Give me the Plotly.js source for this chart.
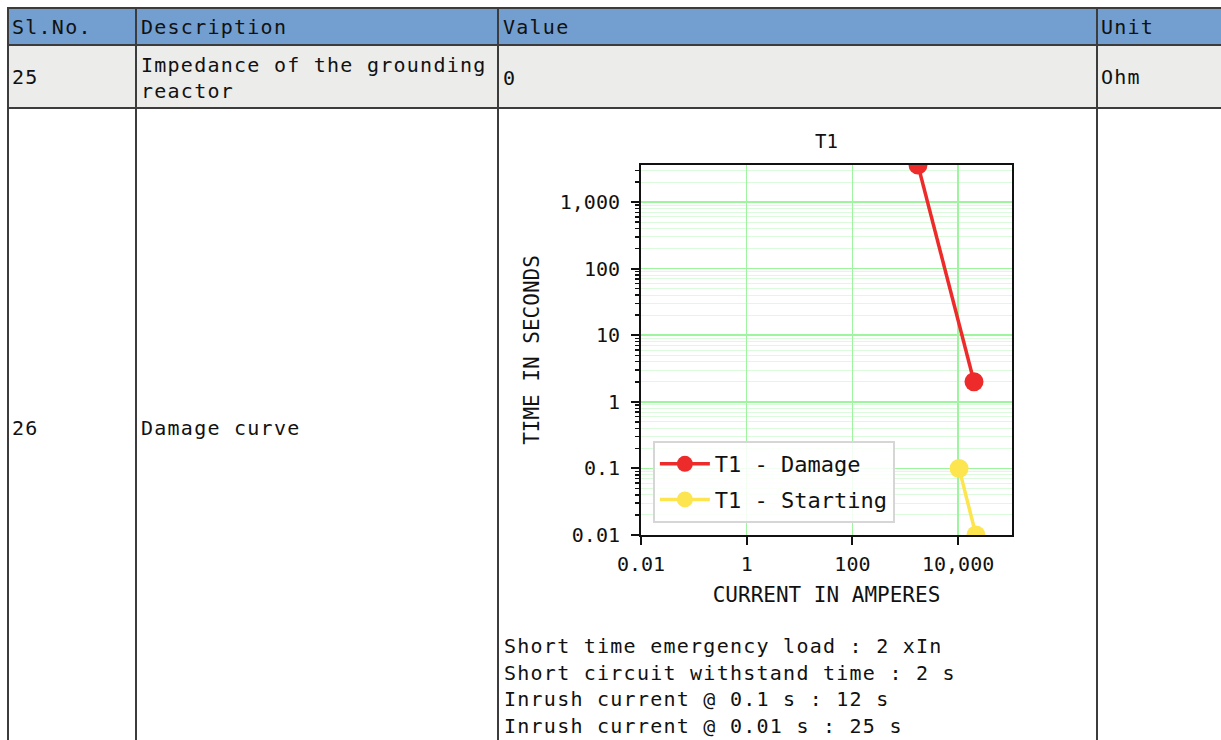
<!DOCTYPE html>
<html>
<head>
<meta charset="utf-8">
<script src="https://cdn.plot.ly/plotly-3.0.1.min.js"></script>
<style>
  html, body { margin: 0; padding: 0; background: #ffffff; width: 1221px; height: 740px; overflow: hidden; }
  body { position: relative; font-family: "DejaVu Sans Mono", monospace; color: #111; }
  .bg { position: absolute; }
  .hl { position: absolute; height: 2px; background: #3c3c3c; }
  .vl { position: absolute; width: 2px; background: #3c3c3c; }
  .t { position: absolute; font-size: 20px; letter-spacing: 1.25px; white-space: pre; line-height: 26px; }
  #chart { position: absolute; left: 500px; top: 110px; width: 530px; height: 515px; }
</style>
</head>
<body>
<div class="bg" style="left:8px;top:8px;width:1213px;height:37px;background:#729fcf;"></div>
<div class="bg" style="left:8px;top:45px;width:1213px;height:63px;background:#ececea;"></div>

<div class="hl" style="left:7px;top:7px;width:1214px;"></div>
<div class="hl" style="left:7px;top:44px;width:1214px;"></div>
<div class="hl" style="left:7px;top:107px;width:1214px;"></div>
<div class="vl" style="left:7px;top:7px;height:733px;"></div>
<div class="vl" style="left:135px;top:7px;height:733px;"></div>
<div class="vl" style="left:497px;top:7px;height:733px;"></div>
<div class="vl" style="left:1096px;top:7px;height:733px;"></div>

<div id="cells"></div>
<div id="chart"></div>
<div id="notes" class="t" style="left:504px;top:633px;line-height:26.6px;"></div>

<script>
// ---- table content ----
const headers = ["Sl.No.", "Description", "Value", "Unit"];
const row25 = ["25", "Impedance of the grounding\nreactor", "0", "Ohm"];
const row26 = ["26", "Damage curve"];
const notes = [
  "Short time emergency load : 2 xIn",
  "Short circuit withstand time : 2 s",
  "Inrush current @ 0.1 s : 12 s",
  "Inrush current @ 0.01 s : 25 s"
];

// ---- chart data ----
const chartTitle = "T1";
const damageName = "T1 - Damage";
const damageCurrent = [1742, 20000];
const damageTime = [3600, 2];
const startingName = "T1 - Starting";
const startingCurrent = [10450, 21775];
const startingTime = [0.1, 0.01];
const xTickVals = [0.01, 1, 100, 10000];
const xTickText = ["0.01", "1", "100", "10,000"];
const yTickVals = [0.01, 0.1, 1, 10, 100, 1000];
const yTickText = ["0.01", "0.1", "1", "10", "100", "1,000"];

// place table text
const colX = [12, 141, 503, 1101];
const cells = document.getElementById('cells');
function addText(txt, x, cy, lines) {
  const d = document.createElement('div');
  d.className = 't';
  d.textContent = txt;
  const n = lines || 1;
  d.style.left = x + 'px';
  d.style.top = (cy - n * 13) + 'px';
  cells.appendChild(d);
}
headers.forEach((h, i) => addText(h, colX[i], 27));
addText(row25[0], colX[0], 77);
addText(row25[1], colX[1], 78, 2);
addText(row25[2], colX[2], 78);
addText(row25[3], colX[3], 77);
addText(row26[0], colX[0], 428);
addText(row26[1], colX[1], 428);
document.getElementById('notes').textContent = notes.join("\n");

// ---- chart ----
const FONT = "DejaVu Sans Mono, monospace";
const traces = [
  {
    x: damageCurrent, y: damageTime, name: damageName, type: 'scatter', mode: 'lines+markers',
    line: { color: '#ee2b2b', width: 3.5 }, marker: { color: '#ee2b2b', size: 19 },
    legendgroup: 'a'
  },
  {
    x: startingCurrent, y: startingTime, name: startingName, type: 'scatter', mode: 'lines+markers',
    line: { color: '#fce54e', width: 3.5 }, marker: { color: '#fce54e', size: 19 },
    legendgroup: 'b'
  }
];
const layout = {
  width: 530, height: 515,
  margin: { l: 141, r: 18, t: 55, b: 90, autoexpand: false },
  paper_bgcolor: 'rgba(0,0,0,0)', plot_bgcolor: '#ffffff',
  font: { family: FONT, color: '#111', size: 20 },
  showlegend: true,
  title: { text: chartTitle, font: { family: FONT, size: 19, color: '#111' },
           x: 0.5, xref: 'paper', xanchor: 'center', y: 1 - 31 / 515, yref: 'container', yanchor: 'middle' },
  xaxis: {
    type: 'log', range: [-2, 5.02],
    tickmode: 'array', tickvals: xTickVals, ticktext: xTickText,
    ticks: 'outside', ticklen: 8, tickwidth: 2, tickcolor: '#111',
    showline: true, linecolor: '#111', linewidth: 2, mirror: true,
    showgrid: true, gridcolor: '#9ff59f', gridwidth: 1.5,
    zeroline: false, ticklabelstandoff: 2,
    tickfont: { family: FONT, size: 20, color: '#111' },
    title: { text: 'CURRENT IN AMPERES', font: { family: FONT, size: 21, color: '#111' }, standoff: 12 }
  },
  yaxis: {
    type: 'log', range: [-2, Math.log10(3600)],
    tickmode: 'array', tickvals: yTickVals, ticktext: yTickText,
    ticks: 'outside', ticklen: 8, tickwidth: 2, tickcolor: '#111',
    showline: true, linecolor: '#111', linewidth: 2, mirror: true,
    showgrid: true, gridcolor: '#9ff59f', gridwidth: 1.5,
    zeroline: false, ticklabelstandoff: 7,
    minor: { dtick: 'D1', ticks: 'outside', ticklen: 4, tickwidth: 1.5, tickcolor: '#111',
             showgrid: true, gridcolor: '#dcfbdc', gridwidth: 1 },
    tickfont: { family: FONT, size: 20, color: '#111' },
    title: { text: 'TIME IN SECONDS', font: { family: FONT, size: 21, color: '#111' }, standoff: 14 }
  },
  legend: {
    x: 0.032, y: 0.254, xanchor: 'left', yanchor: 'top',
    bgcolor: 'rgba(255,255,255,0.85)', bordercolor: '#d6d6d6', borderwidth: 2,
    font: { family: FONT, size: 22, color: '#111' },
    traceorder: 'grouped', tracegroupgap: 4, itemwidth: 50,
    entrywidth: 262, entrywidthmode: 'pixels'
  }
};
Plotly.newPlot('chart', traces, layout, { displayModeBar: false, staticPlot: true });
</script>
</body>
</html>
